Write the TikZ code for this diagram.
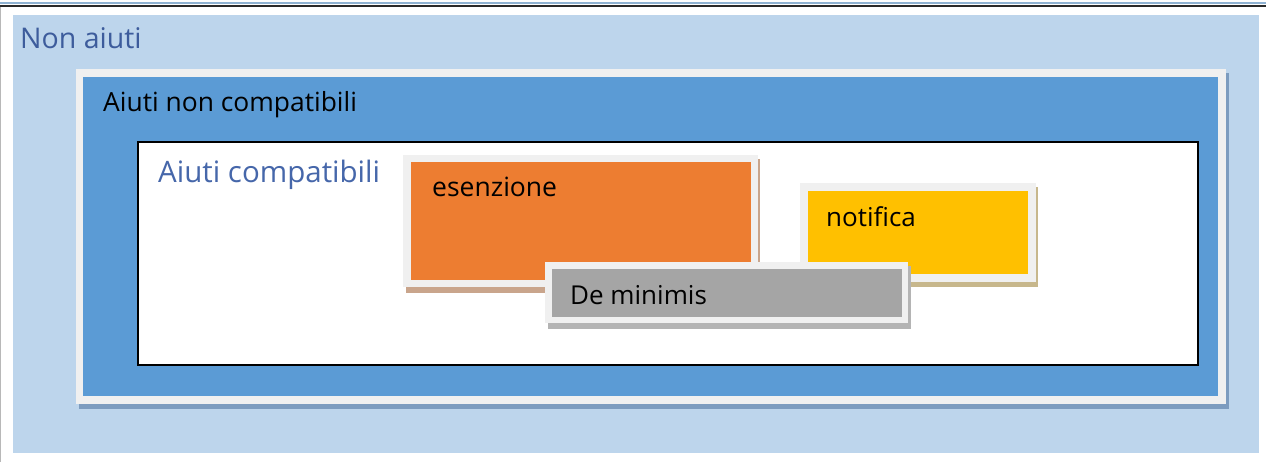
\documentclass[tikz,border=0pt]{standalone}
\usepackage{fontspec}
\setmainfont{Open Sans}
\definecolor{rulelight}{HTML}{8FB2D2}
\definecolor{ruledark}{HTML}{2A2A2A}
\definecolor{edgegray}{HTML}{B8B8B8}
\definecolor{sky}{HTML}{BDD5EC}
\definecolor{framegray}{HTML}{F0F0F0}
\definecolor{midblue}{HTML}{5B9BD5}
\definecolor{midshadow}{HTML}{7D9CBF}
\definecolor{orangefill}{HTML}{ED7D31}
\definecolor{orangeshadow}{HTML}{C9A58C}
\definecolor{yellowfill}{HTML}{FFC000}
\definecolor{yellowshadow}{HTML}{C7B78C}
\definecolor{grayfill}{HTML}{A5A5A5}
\definecolor{grayshadow}{HTML}{B4B4B4}
\definecolor{titleblue}{HTML}{3D5C9C}
\definecolor{labelblue}{HTML}{4667AA}
\tikzset{
  label text/.style={inner sep=0pt, anchor=base west, font=\fontsize{26}{30}\selectfont, text=black},
  blue title/.style={label text, text=titleblue, font=\fontsize{28.5}{32}\selectfont},
}
\begin{document}
\begin{tikzpicture}[x=1pt,y=-1pt]
\useasboundingbox (0,0) rectangle (1266,462);
\fill[white] (0,0) rectangle (1266,462);
% window rule at the top and left edge
\draw[rulelight, line width=1.5pt] (0,3) -- (1266,3);
\draw[ruledark, line width=2pt] (0,5.8) -- (1266,5.8);
\draw[edgegray, line width=1pt] (0.5,7) -- (0.5,462);
% outer region
\fill[sky] (13,15) rectangle (1259,453);
% middle region with frame and shadow
\fill[midshadow] (79,73) rectangle (1229,409);
\fill[framegray] (76,69) rectangle (1226,404);
\fill[midblue] (83,77) rectangle (1218,396);
% inner region
\draw[black, line width=1.3pt, fill=white] (138,142) rectangle (1198,365);
% esenzione card
\fill[orangeshadow] (406,159) rectangle (760,293);
\fill[framegray] (403,155) rectangle (758,287);
\fill[orangefill] (411,162) rectangle (751,280);
% notifica card
\fill[yellowshadow] (803,187) rectangle (1038,287);
\fill[framegray] (800,183) rectangle (1036,282);
\fill[yellowfill] (808,191) rectangle (1028,274);
% de minimis card
\fill[grayshadow] (548,266) rectangle (911,329);
\fill[framegray] (545,262) rectangle (908,323);
\fill[grayfill] (552,269) rectangle (902,317);
% labels
\node[blue title] (nonaiuti) at (20,49) {Non aiuti};
\node[label text, font=\fontsize{26.4}{30}\selectfont] (noncomp) at (103,112) {Aiuti non compatibili};
\node[blue title, text=labelblue, font=\fontsize{29.5}{33}\selectfont] (comp) at (158,183) {Aiuti compatibili};
\node[label text, font=\fontsize{26.5}{30}\selectfont] (esenzione) at (432,197) {esenzione};
\node[label text] (notifica) at (826,227) {notifica};
\node[label text] (deminimis) at (570,305) {De minimis};
\end{tikzpicture}
\end{document}
